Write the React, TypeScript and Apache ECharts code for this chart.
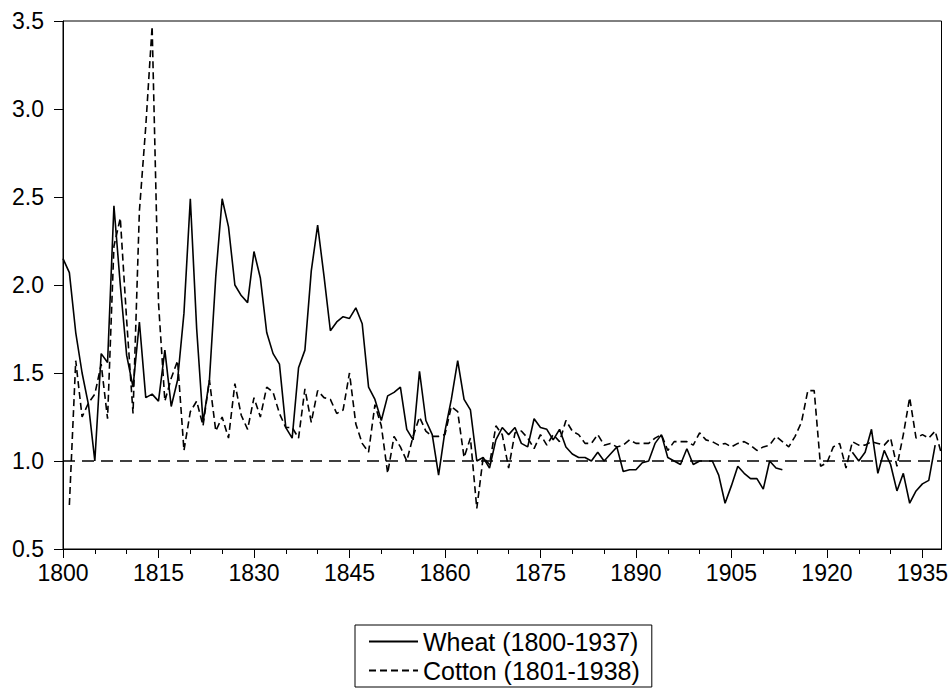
import React, { useEffect, useRef } from "react";
import * as echarts from "echarts";

const wheatStart = 1800;
const wheatValues: (number | null)[] = [
  2.15, 2.07, 1.73, 1.5, 1.32, 1.0, 1.61, 1.56, 2.45, 2.0,
  1.6, 1.42, 1.79, 1.36, 1.38, 1.34, 1.63, 1.31, 1.46, 1.84,
  2.49, 1.75, 1.22, 1.46, 2.05, 2.49, 2.33, 2.0, 1.94, 1.9,
  2.19, 2.04, 1.73, 1.61, 1.55, 1.19, 1.13, 1.53, 1.63, 2.08,
  2.34, 2.05, 1.74, 1.79, 1.82, 1.81, 1.87, 1.78, 1.42, 1.35,
  1.23, 1.37, 1.39, 1.42, 1.18, 1.12, 1.51, 1.23, 1.15, 0.92,
  1.17, 1.35, 1.57, 1.35, 1.29, 1.0, 1.02, 0.96, 1.12, 1.19,
  1.15, 1.19, 1.1, 1.08, 1.24, 1.19, 1.18, 1.12, 1.18, 1.08,
  1.04, 1.02, 1.02, 1.0, 1.05, 1.0, 1.04, 1.08, 0.94, 0.95,
  0.95, 0.99, 1.0, 1.1, 1.15, 1.02, 1.0, 0.98, 1.07, 0.98,
  1.0, 1.0, 1.0, 0.92, 0.76, 0.86, 0.97, 0.93, 0.9, 0.9,
  0.84, 1.0, 0.96, 0.95, null, null, null, null, null, null,
  null, null, null, null, 1.05, 1.0, 1.05, 1.18, 0.93, 1.06,
  0.98, 0.83, 0.93, 0.76, 0.83, 0.87, 0.89, 1.09,
];

const cottonStart = 1801;
const cottonValues: number[] = [
  0.75, 1.57, 1.25, 1.33, 1.38, 1.55, 1.24, 2.22, 2.38,
  1.8, 1.27, 2.42, 2.9, 3.47, 1.9, 1.34, 1.47, 1.57, 1.06,
  1.28, 1.34, 1.2, 1.46, 1.17, 1.25, 1.13, 1.44, 1.26, 1.18,
  1.36, 1.25, 1.42, 1.39, 1.27, 1.19, 1.19, 1.13, 1.41, 1.22,
  1.4, 1.36, 1.35, 1.27, 1.29, 1.5, 1.21, 1.1, 1.05, 1.32,
  1.2, 0.93, 1.14, 1.08, 1.0, 1.14, 1.25, 1.17, 1.14, 1.14,
  1.15, 1.31, 1.28, 1.02, 1.13, 0.73, 1.02, 0.98, 1.2, 1.15,
  0.96, 1.16, 1.17, 1.13, 1.07, 1.15, 1.09, 1.15, 1.11, 1.23,
  1.17, 1.15, 1.1, 1.1, 1.15, 1.09, 1.1, 1.08, 1.09, 1.12,
  1.1, 1.1, 1.1, 1.13, 1.15, 1.06, 1.11, 1.11, 1.11, 1.09,
  1.16, 1.12, 1.11, 1.09, 1.1, 1.08, 1.1, 1.11, 1.09, 1.06,
  1.08, 1.09, 1.14, 1.11, 1.08, 1.14, 1.22, 1.4, 1.4, 0.97,
  0.99, 1.08, 1.1, 0.96, 1.11, 1.09, 1.09, 1.11, 1.1, 1.09,
  1.13, 0.97, 1.15, 1.36, 1.13, 1.15, 1.13, 1.17, 1.04,
];

const xLabelYears = [1800, 1815, 1830, 1845, 1860, 1875, 1890, 1905, 1920, 1935];
const xMinorYears = [
  1800, 1805, 1810, 1815, 1820, 1825, 1830, 1835, 1840, 1845, 1850, 1855, 1860, 1865,
  1870, 1875, 1880, 1885, 1890, 1895, 1900, 1905, 1910, 1915, 1920, 1925, 1930, 1935,
];
const seriesNames = ["Wheat (1800-1937)", "Cotton (1801-1938)"];
const referenceValue = 1.0;

const FONT = "'Liberation Sans', Arial, sans-serif";

export default function App() {
  const ref = useRef<HTMLDivElement>(null);
  useEffect(() => {
    const chart = echarts.init(ref.current!, null, { renderer: "svg" });
    const wheatData = wheatValues.map((v, i) => [wheatStart + i, v]);
    const cottonData = cottonValues.map((v, i) => [cottonStart + i, v]);
    const axisLineStyle = { color: "#000", width: 1 };
    chart.setOption({
      animation: false,
      backgroundColor: "#fff",
      grid: {
        left: 63,
        right: 8,
        top: 21,
        bottom: 148,
        show: true,
        borderColor: "#000",
        borderWidth: 1,
        backgroundColor: "transparent",
      },
      legend: {
        data: seriesNames,
        orient: "vertical",
        left: 355,
        top: 625,
        itemWidth: 49,
        itemHeight: 14,
        itemGap: 4,
        padding: [4, 12, 4, 13],
        borderColor: "#000",
        borderWidth: 1,
        itemStyle: { opacity: 0, borderWidth: 0 },
        textStyle: { fontSize: 25, color: "#000", fontFamily: FONT },
      },
      xAxis: [
        {
          type: "value",
          min: 1800,
          max: 1938,
          interval: 15,
          position: "bottom",
          axisLine: { show: true, lineStyle: axisLineStyle },
          axisTick: { show: true, length: 9, lineStyle: axisLineStyle, customValues: xLabelYears },
          axisLabel: {
            customValues: xLabelYears,
            formatter: (v: number) => String(v),
            fontSize: 23,
            color: "#000",
            fontFamily: FONT,
            margin: 12,
          },
          splitLine: { show: false },
        },
        {
          type: "value",
          min: 1800,
          max: 1938,
          interval: 5,
          position: "bottom",
          axisLine: { show: false },
          axisTick: { show: true, length: 5, lineStyle: axisLineStyle, customValues: xMinorYears },
          axisLabel: { show: false },
          splitLine: { show: false },
        },
      ],
      yAxis: {
        type: "value",
        min: 0.5,
        max: 3.5,
        interval: 0.5,
        axisLine: { show: true, lineStyle: axisLineStyle },
        axisTick: { show: true, length: 9, lineStyle: axisLineStyle },
        axisLabel: {
          formatter: (v: number) => v.toFixed(1),
          fontSize: 23,
          color: "#000",
          fontFamily: FONT,
          margin: 19,
        },
        splitLine: { show: false },
      },
      series: [
        {
          name: seriesNames[0],
          type: "line",
          xAxisIndex: 0,
          data: wheatData,
          symbol: "none",
          lineStyle: { color: "#000", width: 1.6, type: "solid" },
          itemStyle: { color: "#000" },
          markLine: {
            silent: true,
            symbol: ["none", "none"],
            label: { show: false },
            lineStyle: { color: "#000", width: 1.5, type: [12, 7] },
            data: [{ yAxis: referenceValue }],
          },
        },
        {
          name: seriesNames[1],
          type: "line",
          xAxisIndex: 0,
          data: cottonData,
          symbol: "none",
          lineStyle: { color: "#000", width: 1.6, type: [7, 4] },
          itemStyle: { color: "#000" },
        },
      ],
    });
    return () => chart.dispose();
  }, []);
  return (
    <div
      ref={ref}
      style={{ position: "fixed", left: 0, top: 0, width: 951, height: 697, background: "#fff" }}
    />
  );
}
